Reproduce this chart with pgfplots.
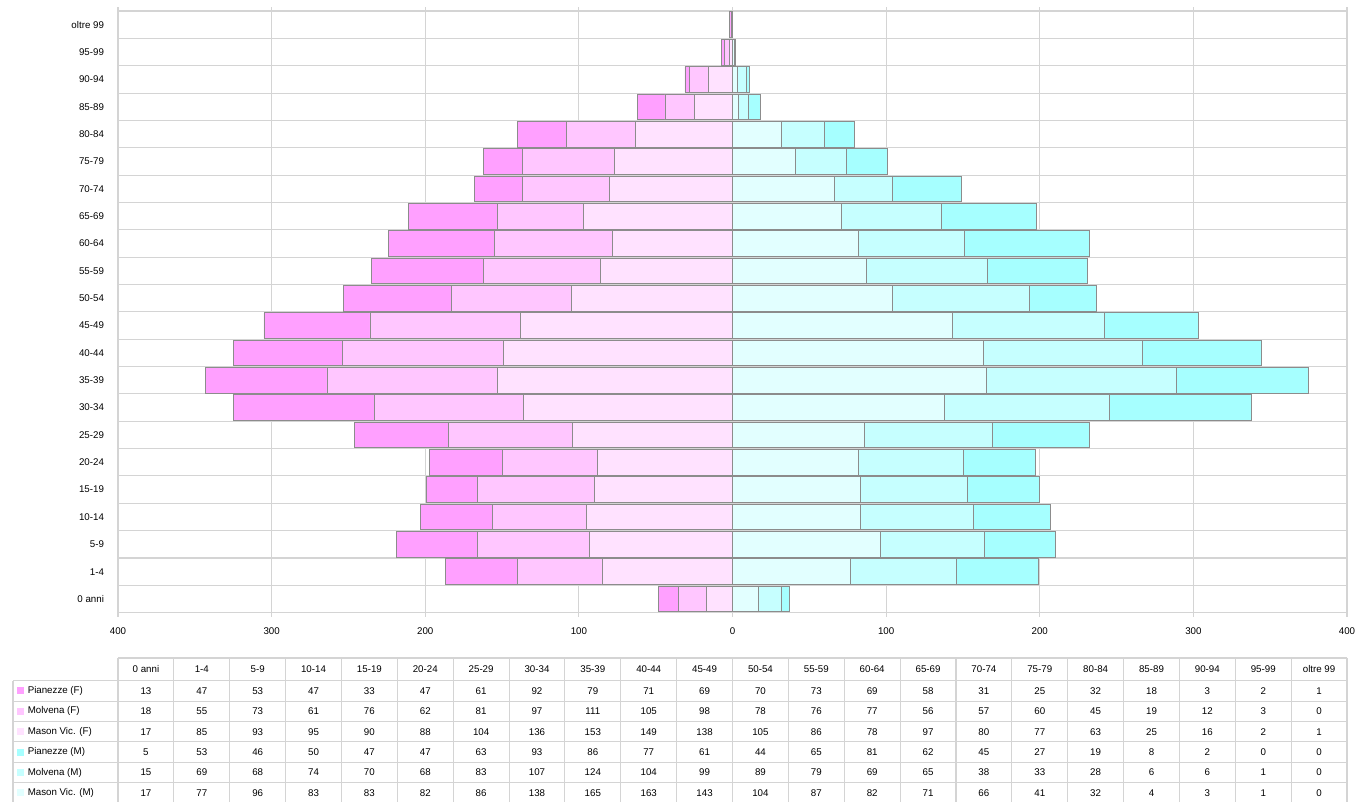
\documentclass[border=0pt]{standalone}
\usepackage{pgfplots}
\pgfplotsset{compat=1.18}
\usepackage{pgfplotstable}
\usepackage{fontspec}
\setmainfont{Liberation Sans}
\definecolor{pf}{HTML}{FFA0FF}
\definecolor{mf}{HTML}{FFC6FF}
\definecolor{vf}{HTML}{FFE2FF}
\definecolor{pm}{HTML}{A6FFFF}
\definecolor{mm}{HTML}{C6FFFF}
\definecolor{vm}{HTML}{E2FFFF}
\definecolor{gridc}{HTML}{D4D4D4}
\definecolor{edgec}{HTML}{8C8C8C}
\newcommand\tf{\fontsize{7.3}{8}\selectfont}

\pgfplotstableread{
y PF MF VF PM MM VM
0 13 18 17 5 15 17
1 47 55 85 53 69 77
2 53 73 93 46 68 96
3 47 61 95 50 74 83
4 33 76 90 47 70 83
5 47 62 88 47 68 82
6 61 81 104 63 83 86
7 92 97 136 93 107 138
8 79 111 153 86 124 165
9 71 105 149 77 104 163
10 69 98 138 61 99 143
11 70 78 105 44 89 104
12 73 76 86 65 79 87
13 69 77 78 81 69 82
14 58 56 97 62 65 71
15 31 57 80 45 38 66
16 25 60 77 27 33 41
17 32 45 63 19 28 32
18 18 19 25 8 6 4
19 3 12 16 2 6 3
20 2 3 2 0 1 1
21 1 0 1 0 0 0
}\data

\pgfplotsset{pyr/.style={
  scale only axis, width=921.75pt, height=451.25pt,
  at={(88.5pt,-459.5pt)}, anchor=south west,
  xmin=-400, xmax=400, ymin=-0.5, ymax=21.5,
  xbar stacked, bar width=0.94,
  every axis plot/.append style={draw=edgec, line width=0.55pt},
}}

\begin{document}
\begin{tikzpicture}
\path[use as bounding box] (0,0) rectangle (1018.5pt,-600.75pt);

\begin{axis}[pyr,
  xtick={-400,-300,...,400},
  xmajorgrids,
  minor ytick={-0.5,0.5,...,21.5},
  yminorgrids,
  grid style={gridc, line width=0.8pt},
  minor grid style={gridc, line width=0.8pt},
  axis line style={gridc, line width=0.8pt},
  ytick={0,...,21},
  yticklabels={0 anni,1-4,5-9,10-14,15-19,20-24,25-29,30-34,35-39,40-44,45-49,50-54,55-59,60-64,65-69,70-74,75-79,80-84,85-89,90-94,95-99,oltre 99},
  ytick style={draw=none},
  minor tick length=0pt,
  xtick style={gridc, line width=0.8pt},
  tick align=outside, major tick length=3pt,
  /pgf/number format/assume math mode=true,
  tick label style={font=\tf},
  xticklabel={\pgfmathparse{abs(\tick)}\pgfmathprintnumber{\pgfmathresult}},
  xticklabel style={yshift=-5pt},
  yticklabel style={xshift=-4pt},
]
\addplot[fill=vf] table[x expr=-\thisrow{VF}, y=y] {\data};
\addplot[fill=mf] table[x expr=-\thisrow{MF}, y=y] {\data};
\addplot[fill=pf] table[x expr=-\thisrow{PF}, y=y] {\data};
\end{axis}

\begin{axis}[pyr, hide axis]
\addplot[fill=vm] table[x=VM, y=y] {\data};
\addplot[fill=mm] table[x=MM, y=y] {\data};
\addplot[fill=pm] table[x=PM, y=y] {\data};
\end{axis}

\begin{scope}[x=0.75pt,y=-0.75pt]
  \draw[gridc, line width=0.8pt] (118,658) -- (1347,658);
  \foreach \yy in {680.7,701.1,721.5,741.9,762.3,782.7}
    \draw[gridc, line width=0.8pt] (13,\yy) -- (1347,\yy);
  \draw[gridc, line width=0.8pt] (13,680.7) -- (13,810);
  \foreach \k in {0,...,22}
    \draw[gridc, line width=0.8pt] ({118+55.864*\k},658) -- ({118+55.864*\k},810);
  \foreach \lab [count=\i from 0] in {0 anni,1-4,5-9,10-14,15-19,20-24,25-29,30-34,35-39,40-44,45-49,50-54,55-59,60-64,65-69,70-74,75-79,80-84,85-89,90-94,95-99,oltre 99}
    \node[font=\tf, inner sep=0pt] at ({118+55.864*(\i+0.5)},669.3) {\lab};
  \foreach \lab/\col [count=\r from 0] in {Pianezze (F)/pf,Molvena (F)/mf,Mason Vic. (F)/vf,Pianezze (M)/pm,Molvena (M)/mm,Mason Vic. (M)/vm} {
    \fill[\col] (16.5,{680.7+10.2+20.4*\r-3.5}) rectangle ++(7,7);
    \node[font=\tf, inner sep=0pt, anchor=west] at (27.5,{680.7+10.2+20.4*\r}) {\lab};
  }
  \foreach \row [count=\r from 0] in {
    {13,47,53,47,33,47,61,92,79,71,69,70,73,69,58,31,25,32,18,3,2,1},
    {18,55,73,61,76,62,81,97,111,105,98,78,76,77,56,57,60,45,19,12,3,0},
    {17,85,93,95,90,88,104,136,153,149,138,105,86,78,97,80,77,63,25,16,2,1},
    {5,53,46,50,47,47,63,93,86,77,61,44,65,81,62,45,27,19,8,2,0,0},
    {15,69,68,74,70,68,83,107,124,104,99,89,79,69,65,38,33,28,6,6,1,0},
    {17,77,96,83,83,82,86,138,165,163,143,104,87,82,71,66,41,32,4,3,1,0}} {
    \foreach \v [count=\i from 0] in \row
      \node[font=\tf, inner sep=0pt] at ({118+55.864*(\i+0.5)},{680.7+10.2+20.4*\r}) {\v};
  }
\end{scope}
\end{tikzpicture}
\end{document}
